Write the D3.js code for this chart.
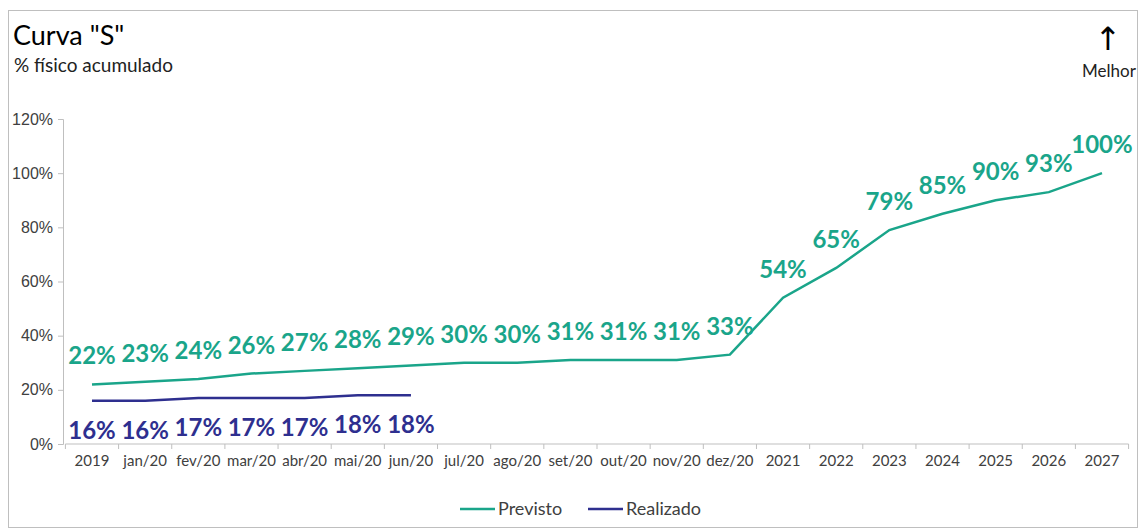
<!DOCTYPE html>
<html><head><meta charset="utf-8">
<script src="https://cdn.jsdelivr.net/npm/d3@7"></script>
<style>body{margin:0;background:#fff;} svg{display:block;font-family:Lato,"Open Sans",sans-serif;}</style>
</head><body>
<svg id="c" width="1142" height="531"></svg>
<script>
const categories = ["2019","jan/20","fev/20","mar/20","abr/20","mai/20","jun/20","jul/20","ago/20","set/20","out/20","nov/20","dez/20","2021","2022","2023","2024","2025","2026","2027"];
const previsto = [22,23,24,26,27,28,29,30,30,31,31,31,33,54,65,79,85,90,93,100];
const realizado = [16,16,17,17,17,18,18];
const yTicks = [0,20,40,60,80,100,120];

const svg = d3.select("#c");
const cPrev = "#1aa58a", cReal = "#2e2f8f";
svg.append("rect").attr("x",8.5).attr("y",10.5).attr("width",1129).attr("height",517).attr("fill","#fff").attr("stroke","#bfbfbf");

const x = d3.scalePoint().domain(categories).range([92,1102]);
const step = x.step();
const y = d3.scaleLinear().domain([0,120]).range([444,119]);

// y axis
const ya = svg.append("g").attr("transform","translate(63,0)")
  .call(d3.axisLeft(y).tickValues(yTicks).tickFormat(d=>d+"%").tickSizeOuter(0).tickSize(5));
ya.select(".domain").attr("stroke","#bfbfbf");
ya.selectAll(".tick line").attr("stroke","#bfbfbf");
ya.selectAll("text").attr("font-size",16).attr("fill","#404040").attr("x",-10);

// x axis
const xa = svg.append("g").attr("transform","translate(0,444)");
xa.append("line").attr("x1",x(categories[0])-step/2).attr("x2",x(categories[categories.length-1])+step/2).attr("stroke","#bfbfbf");
categories.concat(["_end"]).forEach((c,i)=>{
  const xx = x(categories[0]) - step/2 + i*step;
  xa.append("line").attr("x1",xx).attr("x2",xx).attr("y1",0).attr("y2",5).attr("stroke","#bfbfbf");
});
xa.selectAll("text.xl").data(categories).enter().append("text").attr("class","xl")
  .attr("x",d=>x(d)).attr("y",22).attr("text-anchor","middle").attr("font-size",15).attr("fill","#404040").text(d=>d);

const line = d3.line().x((d,i)=>x(categories[i])).y(d=>y(d));
svg.append("path").datum(previsto).attr("d",line).attr("fill","none").attr("stroke",cPrev).attr("stroke-width",2.5);
svg.append("path").datum(realizado).attr("d",line).attr("fill","none").attr("stroke",cReal).attr("stroke-width",2.5);

svg.selectAll("text.pl").data(previsto).enter().append("text").attr("class","pl")
  .attr("x",(d,i)=>x(categories[i])).attr("y",d=>y(d)-20).attr("text-anchor","middle")
  .attr("font-size",24).attr("font-weight","bold").attr("fill",cPrev).text(d=>d+"%");
svg.selectAll("text.rl").data(realizado).enter().append("text").attr("class","rl")
  .attr("x",(d,i)=>x(categories[i])).attr("y",d=>y(d)+38).attr("text-anchor","middle")
  .attr("font-size",24).attr("font-weight","bold").attr("fill",cReal).text(d=>d+"%");

// titles
svg.append("text").attr("x",13).attr("y",45).attr("font-size",27).attr("fill","#000").text('Curva "S"');
svg.append("text").attr("x",14).attr("y",72).attr("font-size",19).attr("fill","#222").text("% físico acumulado");
svg.append("text").attr("x",1108).attr("y",50).attr("text-anchor","middle").attr("font-size",32).attr("font-family","DejaVu Sans").attr("fill","#000").text("↑");
svg.append("text").attr("x",1109).attr("y",77).attr("text-anchor","middle").attr("font-size",17).attr("fill","#222").text("Melhor");

// legend
const lg = [["Previsto",cPrev,460],["Realizado",cReal,588]];
lg.forEach(([t,c,lx])=>{
  svg.append("line").attr("x1",lx).attr("x2",lx+35).attr("y1",509).attr("y2",509).attr("stroke",c).attr("stroke-width",2.5);
  svg.append("text").attr("x",lx+38).attr("y",515).attr("font-size",18).attr("fill","#404040").text(t);
});
</script>
</body></html>
